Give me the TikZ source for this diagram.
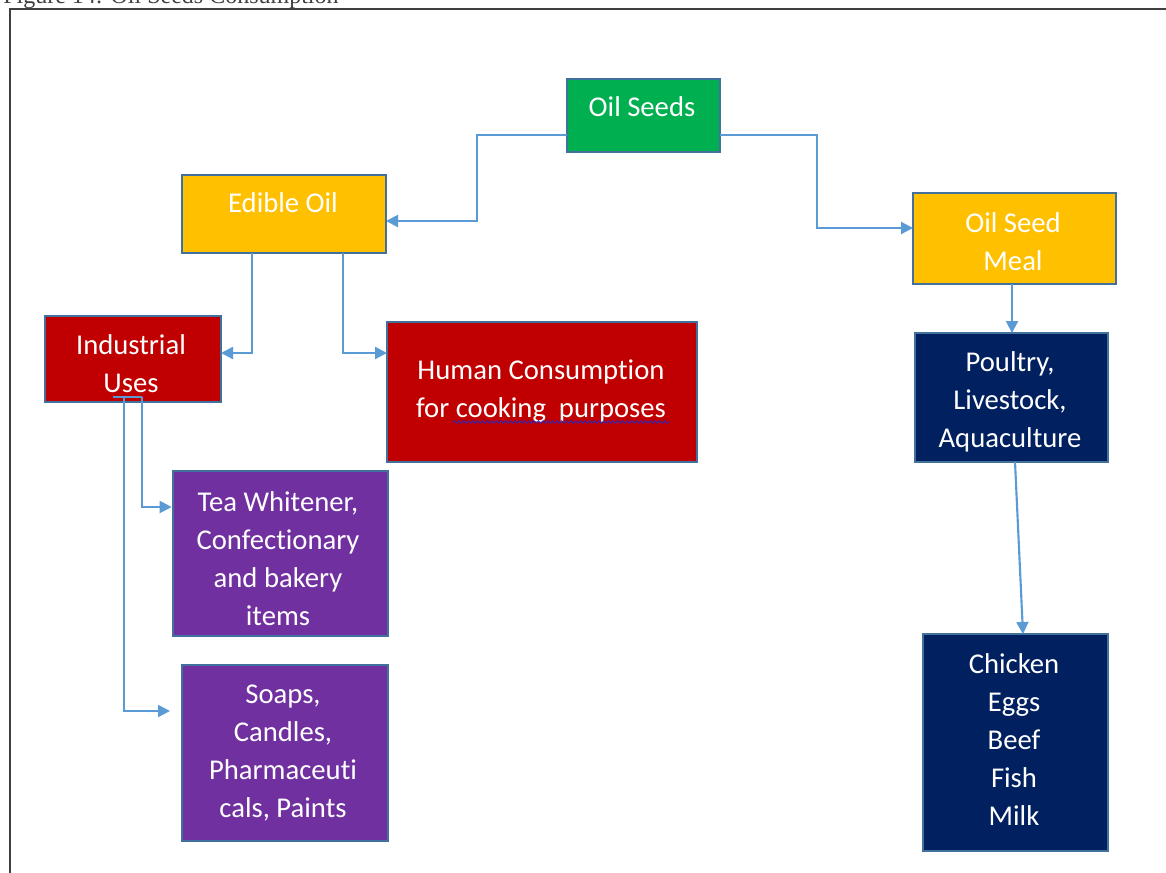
\documentclass[tikz,border=0pt]{standalone}
\usepackage{fontspec}
\setmainfont{Carlito}[Ligatures={NoCommon}]
\newfontfamily\capfont{Liberation Serif}
\usetikzlibrary{arrows.meta,fit,decorations.pathmorphing}
\definecolor{cgreen}{HTML}{00B050}
\definecolor{corange}{HTML}{FFC000}
\definecolor{cred}{HTML}{C00000}
\definecolor{cpurple}{HTML}{7030A0}
\definecolor{cnavy}{HTML}{002060}
\definecolor{boxline}{HTML}{41719C}
\definecolor{connc}{HTML}{5B9BD5}
\definecolor{framec}{HTML}{404040}
\begin{document}
\begin{tikzpicture}[x=0.75pt,y=-0.75pt,
  box/.style={draw=boxline, line width=0.8pt, inner sep=0pt, outer sep=0pt},
  lbl/.style={text=white, align=center, inner sep=0pt, font=\fontsize{21.5}{28.5}\selectfont},
  conn/.style={draw=connc, line width=1.6pt, -{Triangle[length=9pt,width=9pt]}},
  plain/.style={draw=connc, line width=1.6pt}]
\useasboundingbox (0,0) rectangle (1166,872);

% caption (cut off at the top, as in the reference) and frame
\node[anchor=base west, inner sep=0pt, text=framec, font=\capfont\fontsize{18}{20}\selectfont] (cap) at (3,3.5) {Figure 14: Oil Seeds Consumption};
\draw[framec, line width=1.6pt] (1180,9) -- (10,9) -- (10,890);

% boxes
\node[box, fill=cgreen,  fit={(567,79) (720,152)}]  (oil) {};
\node[box, fill=corange, fit={(182,175) (386,253)}] (edible) {};
\node[box, fill=corange, fit={(913,193) (1116,284)}] (meal) {};
\node[box, fill=cred,    fit={(45,316) (221,402)}]  (ind) {};
\node[box, fill=cred,    fit={(387,322) (697,462)}] (human) {};
\node[box, fill=cpurple, fit={(173,471) (388,636)}] (tea) {};
\node[box, fill=cpurple, fit={(182,665) (388,841)}] (soap) {};
\node[box, fill=cnavy,   fit={(915,333) (1108,462)}] (poultry) {};
\node[box, fill=cnavy,   fit={(923,634) (1108,851)}] (chicken) {};

% labels
\node[lbl] (oilT) at (642,107) {Oil Seeds};
\node[lbl] (edibleT) at (283,203) {Edible Oil};
\node[lbl] (mealT) at (1013,242) {Oil Seed\\Meal};
\node[lbl] (indT) at (131,364) {Industrial\\Uses};
\node[lbl] (humanT) at (541,391) {Human Consumption\\for cooking\ \ purposes};
\node[lbl] (teaT) at (278,559) {Tea Whitener,\\Confectionary\\and bakery\\items};
\node[lbl] (soapT) at (283,753) {Soaps,\\Candles,\\Pharmaceuti\\cals, Paints};
\node[lbl] (poultryT) at (1010,402) {Poultry,\\Livestock,\\Aquaculture};
\node[lbl] (chickenT) at (1014,740) {Chicken\\Eggs\\Beef\\Fish\\Milk};

% spell-check underline
\draw[draw={rgb,255:red,40;green,40;blue,200}, line width=0.6pt, decorate,
  decoration={snake, amplitude=1pt, segment length=3.5pt}] (453,422) -- (670,422);

% connectors
\draw[conn] (oil.west |- 0,135) -| (477,221) -- (edible.east |- 0,221);
\draw[conn] (oil.east |- 0,135) -| (817,228) -- (meal.west |- 0,228);
\draw[conn] (edible.south -| 252,0) |- (ind.east |- 0,353);
\draw[conn] (edible.south -| 343,0) |- (human.west |- 0,353);
\draw[plain] (113,397) -- (142,397);
\draw[conn, shorten >=1pt] (142,397) |- (tea.west |- 0,507);
\draw[conn, shorten >=9pt] (124,397) |- (soap.west |- 0,711);
\draw[conn] (meal.south -| 1012,0) -- (poultry.north -| 1012,0);
\draw[conn] (poultry.south -| 1015,0) -- (chicken.north -| 1023,0);
\end{tikzpicture}
\end{document}
